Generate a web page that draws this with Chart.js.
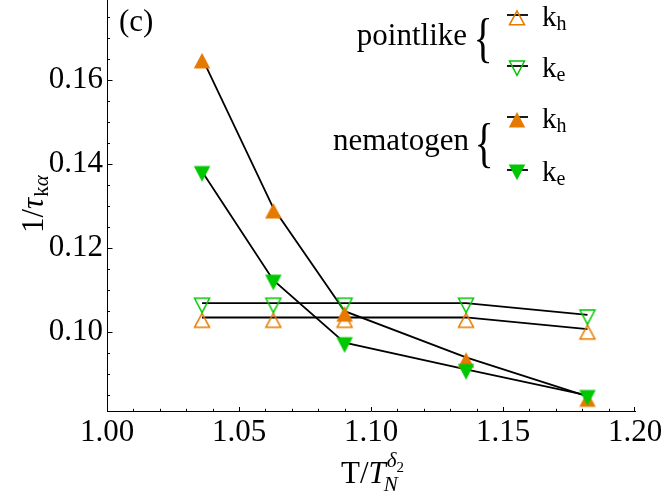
<!DOCTYPE html>
<html>
<head>
<meta charset="utf-8">
<script src="https://cdn.jsdelivr.net/npm/chart.js@4/dist/chart.umd.min.js"></script>
<style>
  html, body { margin: 0; padding: 0; background: #fff; }
  #wrap { width: 662px; height: 494px; position: relative; }
</style>
</head>
<body>
<div id="wrap"><canvas id="chart" width="662" height="494"></canvas></div>
<script>
// Reduced temperature T / T_N^{δ2}
const temps = [1.036, 1.063, 1.090, 1.136, 1.182];
// Relaxation rates 1/τ_kα
const pointlikeKh = [0.1034, 0.1034, 0.1034, 0.1034, 0.1006];
const pointlikeKe = [0.1068, 0.1068, 0.1068, 0.1068, 0.1040];
const nematogenKh = [0.1653, 0.1295, 0.1049, 0.0939, 0.0846];
const nematogenKe = [0.1382, 0.1123, 0.0974, 0.0910, 0.0848];

const xTicks = [1.00, 1.05, 1.10, 1.15, 1.20];
const yTicks = [0.10, 0.12, 0.14, 0.16];
const xRange = [1.00, 1.20];
const yRange = [0.0811, 0.1791];

const ORANGE = '#E67A00';
const GREEN = '#00C800';
const SERIF = '"Liberation Serif", "Times New Roman", serif';
const FS = 31;

// triangle glyph images; the data point sits at (14, 20) inside each canvas
function triangle(dir, filled, color) {
  const c = document.createElement('canvas');
  c.width = 28; c.height = 40;
  const g = c.getContext('2d');
  const cx = 14, cy = 20;
  const w = filled ? 16.5 : 15;
  let apex, base;
  if (dir === 'up') { apex = cy - 5.0; base = cy + 10.4; }
  else { base = cy - 5.6; apex = cy + 10.2; }
  if (!filled) {
    if (dir === 'up') { apex += 0.8; base -= 0.6; } else { base += 0.6; apex -= 0.8; }
  }
  g.beginPath();
  g.moveTo(cx, apex);
  g.lineTo(cx + w / 2, base);
  g.lineTo(cx - w / 2, base);
  g.closePath();
  if (filled) { g.fillStyle = color; g.fill(); }
  else { g.strokeStyle = color; g.lineWidth = 1.5; g.lineJoin = 'miter'; g.stroke(); }
  return c;
}

const markOpenUp = triangle('up', false, ORANGE);
const markOpenDown = triangle('down', false, GREEN);
const markFillUp = triangle('up', true, ORANGE);
const markFillDown = triangle('down', true, GREEN);

const pts = arr => temps.map((t, i) => ({ x: t, y: arr[i] }));

function lineSet(arr, order) {
  return { data: pts(arr), showLine: true, borderColor: '#000', borderWidth: 1.8,
           pointRadius: 0, pointHoverRadius: 0, tension: 0, order: order, clip: false };
}
function markSet(arr, img, order) {
  return { data: pts(arr), showLine: false, pointStyle: img, pointRadius: 8,
           pointHoverRadius: 8, order: order, clip: false };
}

// inward ticks, axis titles, panel tag and legend
const decorations = {
  id: 'decorations',
  beforeDatasetsDraw(chart) {
    const { ctx, scales: { x, y } } = chart;
    const bottom = y.bottom, left = x.left;
    ctx.save();
    ctx.strokeStyle = '#000';
    ctx.lineWidth = 1;
    const xMajor = xTicks.slice(1);
    for (let k = 1; k < 20; k++) {
      const v = xRange[0] + k * 0.01;
      const isMajor = xMajor.some(m => Math.abs(m - v) < 1e-9);
      const px = Math.round(x.getPixelForValue(v)) + 0.5;
      ctx.beginPath();
      ctx.moveTo(px, bottom);
      ctx.lineTo(px, bottom - (isMajor ? 4 : 2.2));
      ctx.stroke();
    }
    {
      const px = Math.round(x.getPixelForValue(xRange[1])) - 0.5;
      ctx.beginPath(); ctx.moveTo(px, bottom); ctx.lineTo(px, bottom - 4); ctx.stroke();
    }
    for (let k = 0; k <= 18; k++) {
      const v = 0.085 + k * 0.005;
      if (v > yRange[1]) break;
      const isMajor = yTicks.some(m => Math.abs(m - v) < 1e-9);
      const py = Math.round(y.getPixelForValue(v)) + 0.5;
      ctx.beginPath();
      ctx.moveTo(left, py);
      ctx.lineTo(left + (isMajor ? 5.5 : 3), py);
      ctx.stroke();
    }
    ctx.restore();
  },
  afterDraw(chart) {
    const { ctx } = chart;
    ctx.save();
    ctx.fillStyle = '#000';
    ctx.textBaseline = 'alphabetic';

    // y title: 1/τ_kα, read bottom to top
    ctx.save();
    ctx.translate(43, 233);
    ctx.rotate(-Math.PI / 2);
    ctx.font = FS + 'px ' + SERIF;
    ctx.textAlign = 'left';
    ctx.fillText('1/', 0, 0);
    let u = ctx.measureText('1/').width;
    ctx.font = 'italic ' + FS + 'px ' + SERIF;
    ctx.fillText('τ', u, 0);
    u += ctx.measureText('τ').width + 1;
    ctx.font = '21px ' + SERIF;
    ctx.fillText('k', u, 5);
    u += ctx.measureText('k').width;
    ctx.font = 'italic 21px ' + SERIF;
    ctx.fillText('α', u, 5);
    ctx.restore();

    // x title: T/T_N^{δ2}
    ctx.font = FS + 'px ' + SERIF;
    const w1 = ctx.measureText('T/').width;
    ctx.font = 'italic ' + FS + 'px ' + SERIF;
    const w2 = ctx.measureText('T').width;
    ctx.font = 'italic 21px ' + SERIF;
    const wN = ctx.measureText('N').width;
    const wD = ctx.measureText('δ').width;
    ctx.font = '15px ' + SERIF;
    const w22 = ctx.measureText('2').width;
    const total = w1 + w2 + Math.max(wN, wD + w22);
    let xs = 372 - total / 2;
    const base = 483;
    ctx.textAlign = 'left';
    ctx.font = FS + 'px ' + SERIF;
    ctx.fillText('T/', xs, base);
    xs += w1;
    ctx.font = 'italic ' + FS + 'px ' + SERIF;
    ctx.fillText('T', xs, base);
    xs += w2;
    ctx.font = 'italic 21px ' + SERIF;
    ctx.fillText('N', xs - 2, base + 8);
    ctx.fillText('δ', xs + 1, base - 16);
    ctx.font = '15px ' + SERIF;
    ctx.fillText('2', xs + 1 + wD, base - 11);

    // panel tag
    ctx.font = FS + 'px ' + SERIF;
    ctx.fillText('(c)', 119, 31);

    // legend
    ctx.textAlign = 'right';
    ctx.fillText('pointlike', 467, 45);
    ctx.fillText('nematogen', 469, 150);
    const brace = (cx, cy, h) => {
      ctx.save();
      ctx.font = '100px ' + SERIF;
      const m = ctx.measureText('{');
      const hh = m.actualBoundingBoxAscent + m.actualBoundingBoxDescent;
      const s = h / hh;
      ctx.translate(cx, cy);
      ctx.scale(s * 0.72, s);
      ctx.textAlign = 'center';
      ctx.fillText('{', 0, (m.actualBoundingBoxAscent - m.actualBoundingBoxDescent) / 2);
      ctx.restore();
    };
    brace(483, 40, 46);
    brace(484, 145, 46);

    const rows = [
      { y: 15, img: markOpenUp, sub: 'h' },
      { y: 66, img: markOpenDown, sub: 'e' },
      { y: 117, img: markFillUp, sub: 'h' },
      { y: 170, img: markFillDown, sub: 'e' },
    ];
    ctx.textAlign = 'left';
    for (const r of rows) {
      ctx.strokeStyle = '#000';
      ctx.lineWidth = 1.8;
      ctx.beginPath();
      ctx.moveTo(507, r.y);
      ctx.lineTo(528, r.y);
      ctx.stroke();
      ctx.drawImage(r.img, 517 - 14, r.y - 20);
      ctx.font = '29px ' + SERIF;
      ctx.fillText('k', 542, r.y + 11);
      const kw = ctx.measureText('k').width;
      ctx.font = '20px ' + SERIF;
      ctx.fillText(r.sub, 542 + kw, r.y + 15);
    }
    ctx.restore();
  }
};

const tickFont = { family: SERIF, size: FS };

new Chart(document.getElementById('chart'), {
  type: 'scatter',
  data: {
    datasets: [
      markSet(nematogenKe, markFillDown, 0),
      markSet(nematogenKh, markFillUp, 1),
      markSet(pointlikeKe, markOpenDown, 2),
      markSet(pointlikeKh, markOpenUp, 3),
      lineSet(nematogenKe, 4),
      lineSet(nematogenKh, 5),
      lineSet(pointlikeKe, 6),
      lineSet(pointlikeKh, 7),
    ]
  },
  options: {
    responsive: false,
    animation: false,
    devicePixelRatio: 1,
    layout: { autoPadding: false, padding: { left: 0, right: 27, top: 0, bottom: 0 } },
    plugins: { legend: { display: false }, tooltip: { enabled: false } },
    events: [],
    scales: {
      x: {
        type: 'linear', position: 'bottom', min: xRange[0], max: xRange[1],
        grid: { display: false, drawTicks: false },
        border: { display: true, color: '#000', width: 1 },
        ticks: { font: tickFont, color: '#000', padding: 3, maxRotation: 0, autoSkip: false,
                 callback: v => Number(v).toFixed(2) },
        afterBuildTicks: s => { s.ticks = xTicks.map(v => ({ value: v })); },
        afterFit: s => { s.height = 83; s.paddingLeft = 0; s.paddingRight = 0; }
      },
      y: {
        type: 'linear', position: 'left', min: yRange[0], max: yRange[1],
        grid: { display: false, drawTicks: false },
        border: { display: true, color: '#000', width: 1 },
        ticks: { font: tickFont, color: '#000', padding: 4, autoSkip: false,
                 callback: v => Number(v).toFixed(2) },
        afterBuildTicks: s => { s.ticks = yTicks.map(v => ({ value: v })); },
        afterFit: s => { s.width = 107; s.paddingTop = 0; s.paddingBottom = 0; }
      }
    }
  },
  plugins: [decorations]
});
</script>
</body>
</html>
